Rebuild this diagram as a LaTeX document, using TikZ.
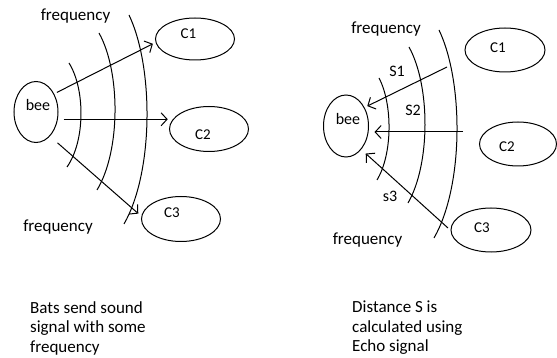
\documentclass[tikz,border=0pt]{standalone}
\usepackage{fontspec}
\setmainfont{Carlito}
\usetikzlibrary{shapes.geometric,arrows.meta}
\begin{document}
\begin{tikzpicture}[x=1pt,y=-1pt,
  ell/.style={draw,ellipse,inner sep=0pt,line width=1pt},
  lbl/.style={inner sep=0pt,font=\fontsize{15}{18}\selectfont},
  txt/.style={inner sep=0pt,font=\fontsize{17}{19.5}\selectfont},
  arr/.style={line width=1pt,-{Straight Barb[length=6pt,width=13pt]}},
  wave/.style={line width=1pt}]
\useasboundingbox (0,0) rectangle (557,358);

% ---------- left panel ----------
\node[ell,minimum width=44pt,minimum height=61pt] (beeL) at (36,112) {};
\node[ell,minimum width=79pt,minimum height=42pt] (c1L) at (195,39) {};
\node[ell,minimum width=79pt,minimum height=45pt] (c2L) at (209,129) {};
\node[ell,minimum width=79pt,minimum height=45pt] (c3L) at (181,219) {};

\node[lbl,font=\fontsize{16}{18}\selectfont] (tbeeL) at (38,105) {bee};
\node[lbl] (tc1L) at (188.5,34) {C1};
\node[lbl] (tc2L) at (203,135) {C2};
\node[lbl] (tc3L) at (172,213) {C3};

\node[txt] (fL1) at (75.5,16.5) {frequency};
\node[txt] (fL2) at (58,227) {frequency};

\draw[wave] (69,63) .. controls (85.3,89) and (85.3,141) .. (67,167);
\draw[wave] (99,33) .. controls (120.7,72) and (120.7,151) .. (97,190);
\draw[wave] (129,15) .. controls (153.8,67) and (153.8,172) .. (124,224);

\draw[arr,shorten <=3pt,shorten >=3pt] (beeL.45) -- (c1L.185);
\draw[arr,shorten <=5pt,shorten >=5pt] (beeL.east |- c2L.165) -- (c2L.165);
\draw[arr,shorten <=10pt,shorten >=4pt] (beeL.-60) -- (c3L.176);

\node[txt,anchor=north west,align=left] (capL) at (30,301)
  {Bats send sound\\signal with some\\frequency};

% ---------- right panel ----------
\node[ell,minimum width=45pt,minimum height=62pt] (beeR) at (346,126) {};
\node[ell,minimum width=80pt,minimum height=44pt] (c1R) at (505,50) {};
\node[ell,minimum width=77pt,minimum height=44pt] (c2R) at (518,144) {};
\node[ell,minimum width=80pt,minimum height=44pt] (c3R) at (491,230) {};

\node[lbl,font=\fontsize{16}{18}\selectfont] (tbeeR) at (348,119) {bee};
\node[lbl] (tc1R) at (498,48) {C1};
\node[lbl] (tc2R) at (507,147) {C2};
\node[lbl] (tc3R) at (482,228) {C3};

\node[txt] (fR1) at (386,29.5) {frequency};
\node[txt] (fR2) at (367.5,240) {frequency};

\node[lbl,font=\fontsize{16}{18}\selectfont] (s1) at (397,71) {S1};
\node[lbl,font=\fontsize{16}{18}\selectfont] (s2) at (413,110) {S2};
\node[lbl,font=\fontsize{16}{18}\selectfont] (s3) at (390,196) {s3};

\draw[wave] (379,78) .. controls (392.7,104) and (392.7,154) .. (377,180);
\draw[wave] (409,47) .. controls (430.5,86) and (430.5,164) .. (408,203);
\draw[wave] (439,30) .. controls (463.8,82) and (463.8,186) .. (434,238);

\coordinate (e1) at (447,67);
\coordinate (e2) at (463,132);
\coordinate (e3) at (448,228);
\draw[arr,shorten >=3pt] (e1) -- (beeR.45);
\draw[arr,shorten >=5.5pt] (e2) -- (beeR.east |- e2);
\draw[arr,shorten >=6pt] (e3) -- (beeR.-57);

\node[txt,anchor=north west,align=left] (capR) at (352,301)
  {Distance S is\\calculated using\\Echo signal};
\end{tikzpicture}
\end{document}
